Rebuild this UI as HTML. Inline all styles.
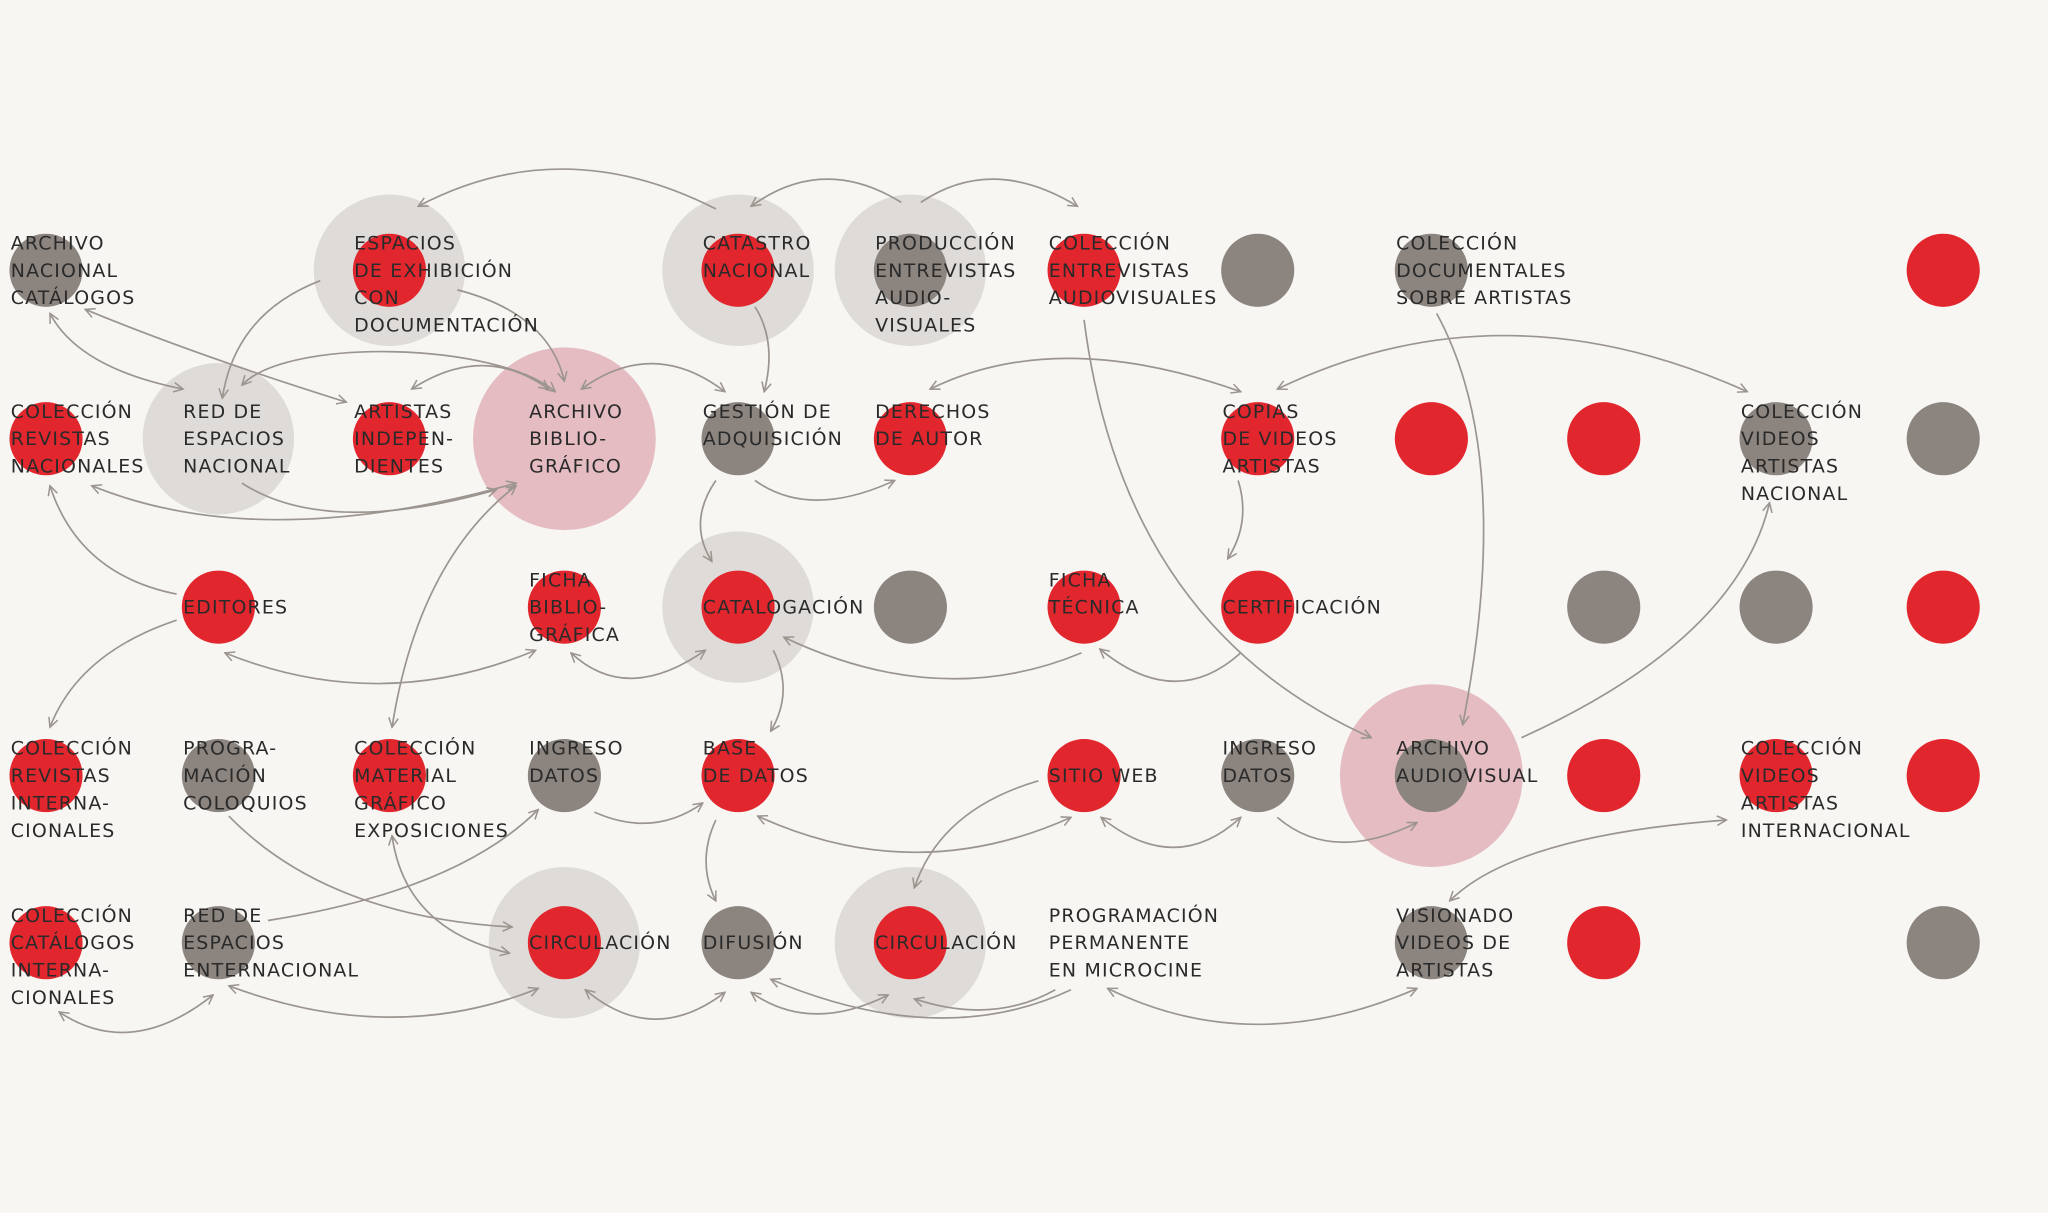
<!DOCTYPE html>
<html><head><meta charset="utf-8">
<style>
html,body{margin:0;padding:0;background:#f7f6f3;}
svg{display:block;}
text{font-family:"DejaVu Sans","Liberation Sans",sans-serif;font-size:14.5px;letter-spacing:0.9px;fill:#2a2a2a;}
</style></head>
<body>
<svg id="chart" width="2048" height="1213" viewBox="0 0 1568 929" xmlns="http://www.w3.org/2000/svg">
<defs>
<marker id="ah" viewBox="0 0 10 10" refX="9" refY="5" markerWidth="9" markerHeight="9" orient="auto-start-reverse" markerUnits="userSpaceOnUse">
<path d="M1,1 L9,5 L1,9" fill="none" stroke="#9c958f" stroke-width="1.3"/>
</marker>
</defs>
<rect width="1568" height="929" fill="#f7f6f3"/>
<g id="halos"></g>
<g id="dots"></g>
<g id="edges"></g>
<g id="labels"></g>
</svg>
<script>
const colX=[35,167,298,432,565,697,830,963,1096,1228,1360,1488];
const rowY=[207,336,465,594,722];
// nodes: [col,row,dot('r','g',''),halo('g','p',''),label lines]
const nodes=[
[0,0,'g','',"ARCHIVO|NACIONAL|CATÁLOGOS"],
[2,0,'r','g',"ESPACIOS|DE EXHIBICIÓN|CON|DOCUMENTACIÓN"],
[4,0,'r','g',"CATASTRO|NACIONAL"],
[5,0,'g','g',"PRODUCCIÓN|ENTREVISTAS|AUDIO-|VISUALES"],
[6,0,'r','',"COLECCIÓN|ENTREVISTAS|AUDIOVISUALES"],
[7,0,'g','',""],
[8,0,'g','',"COLECCIÓN|DOCUMENTALES|SOBRE ARTISTAS"],
[11,0,'r','',""],
[0,1,'r','',"COLECCIÓN|REVISTAS|NACIONALES"],
[1,1,'','g',"RED DE|ESPACIOS|NACIONAL"],
[2,1,'r','',"ARTISTAS|INDEPEN-|DIENTES"],
[3,1,'','p',"ARCHIVO|BIBLIO-|GRÁFICO"],
[4,1,'g','',"GESTIÓN DE|ADQUISICIÓN"],
[5,1,'r','',"DERECHOS|DE AUTOR"],
[7,1,'r','',"COPIAS|DE VIDEOS|ARTISTAS"],
[8,1,'r','',""],
[9,1,'r','',""],
[10,1,'g','',"COLECCIÓN|VIDEOS|ARTISTAS|NACIONAL"],
[11,1,'g','',""],
[1,2,'r','',"EDITORES"],
[3,2,'r','',"FICHA|BIBLIO-|GRÁFICA"],
[4,2,'r','g',"CATALOGACIÓN"],
[5,2,'g','',""],
[6,2,'r','',"FICHA|TÉCNICA"],
[7,2,'r','',"CERTIFICACIÓN"],
[9,2,'g','',""],
[10,2,'g','',""],
[11,2,'r','',""],
[0,3,'r','',"COLECCIÓN|REVISTAS|INTERNA-|CIONALES"],
[1,3,'g','',"PROGRA-|MACIÓN|COLOQUIOS"],
[2,3,'r','',"COLECCIÓN|MATERIAL|GRÁFICO|EXPOSICIONES"],
[3,3,'g','',"INGRESO|DATOS"],
[4,3,'r','',"BASE|DE DATOS"],
[6,3,'r','',"SITIO WEB"],
[7,3,'g','',"INGRESO|DATOS"],
[8,3,'g','p',"ARCHIVO|AUDIOVISUAL"],
[9,3,'r','',""],
[10,3,'r','',"COLECCIÓN|VIDEOS|ARTISTAS|INTERNACIONAL"],
[11,3,'r','',""],
[0,4,'r','',"COLECCIÓN|CATÁLOGOS|INTERNA-|CIONALES"],
[1,4,'g','',"RED DE|ESPACIOS|ENTERNACIONAL"],
[3,4,'r','g',"CIRCULACIÓN"],
[4,4,'g','',"DIFUSIÓN"],
[5,4,'r','g',"CIRCULACIÓN"],
[6,4,'','',"PROGRAMACIÓN|PERMANENTE|EN MICROCINE"],
[8,4,'g','',"VISIONADO|VIDEOS DE|ARTISTAS"],
[9,4,'r','',""],
[11,4,'g','',""]
];
// edges: [path, both-ends]
const edges=[
["M548,160 Q430,100 320,158",0],
["M690,155 Q630,118 575,158",0],
["M705,155 Q760,118 825,158",0],
["M245,215 Q180,240 170,305",0],
["M350,222 Q420,240 432,292",0],
["M578,235 Q595,262 585,300",0],
["M38,240 Q60,282 140,298",1],
["M65,237 Q150,272 265,308",1],
["M185,295 C220,258 380,262 425,300",1],
["M315,298 Q370,262 420,298",1],
["M445,298 Q500,258 555,300",1],
["M578,368 Q620,398 685,368",0],
["M712,298 Q810,250 950,300",1],
["M978,298 Q1150,215 1338,300",1],
["M948,368 Q958,400 940,428",0],
["M185,370 Q250,412 380,375",0],
["M70,372 Q200,425 395,370",1],
["M135,455 Q60,440 38,372",0],
["M135,475 Q60,500 38,557",0],
["M172,500 Q290,548 410,498",1],
["M300,557 Q320,430 395,372",1],
["M437,500 Q480,540 540,498",1],
["M548,368 Q526,400 545,430",0],
["M592,498 Q608,530 590,560",0],
["M828,500 Q720,545 600,488",0],
["M950,500 Q900,545 842,497",0],
["M830,245 Q860,480 1050,565",0],
["M1100,240 Q1160,350 1120,555",0],
["M1165,565 Q1330,490 1355,385",0],
["M455,622 Q500,642 538,615",0],
["M580,625 Q700,680 820,626",1],
["M843,626 Q900,672 950,626",1],
["M978,626 Q1020,662 1085,630",0],
["M795,598 Q720,620 700,680",0],
["M548,628 Q533,660 548,690",0],
["M175,625 Q250,702 392,710",0],
["M205,705 Q350,682 412,620",0],
["M300,640 Q310,712 390,730",1],
["M175,755 Q300,802 412,757",1],
["M45,775 Q100,812 163,762",1],
["M448,758 Q500,802 555,760",1],
["M820,758 Q720,805 590,750",0],
["M808,758 Q760,785 700,765",0],
["M575,760 Q620,792 680,762",1],
["M848,757 Q960,812 1085,757",1],
["M1110,690 Q1160,640 1322,628",1]
];
const NS="http://www.w3.org/2000/svg";
const gH=document.getElementById('halos'),gD=document.getElementById('dots'),gE=document.getElementById('edges'),gL=document.getElementById('labels');
nodes.forEach(n=>{
  const x=colX[n[0]],y=rowY[n[1]];
  if(n[3]){
    const h=document.createElementNS(NS,'circle');
    h.setAttribute('cx',x);h.setAttribute('cy',y);
    h.setAttribute('r',n[3]==='p'?70:58);
    h.setAttribute('fill',n[3]==='p'?'#e4bcc2':'#dedbd8');
    
    
    gH.appendChild(h);
  }
  if(n[2]){
    const c=document.createElementNS(NS,'circle');
    c.setAttribute('cx',x);c.setAttribute('cy',y);c.setAttribute('r',28);
    c.setAttribute('fill',n[2]==='r'?'#e2262d':'#8b847f');
    
    
    gD.appendChild(c);
  }
  if(n[4]){
    const lines=n[4].split('|');
    const y0=lines.length===1?y:y-21;
    lines.forEach((s,i)=>{
      const t=document.createElementNS(NS,'text');
      t.setAttribute('x',x-27);t.setAttribute('y',y0+i*21+5);
      t.textContent=s;
      
      
      gL.appendChild(t);
    });
  }
});
edges.forEach(e=>{
  const p=document.createElementNS(NS,'path');
  p.setAttribute('d',e[0]);
  p.setAttribute('fill','none');p.setAttribute('stroke','#9c958f');p.setAttribute('stroke-width','1.3');
  p.setAttribute('marker-end','url(#ah)');
  if(e[1])p.setAttribute('marker-start','url(#ah)');
  
  
  gE.appendChild(p);
});
</script>
</body></html>
